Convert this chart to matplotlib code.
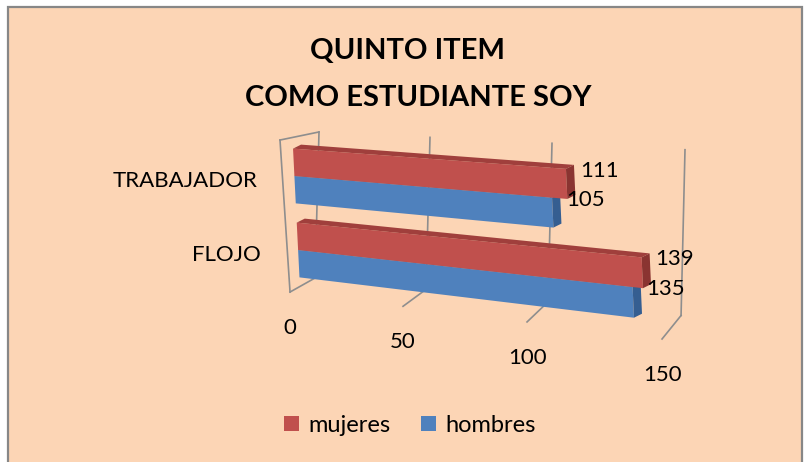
import numpy as np
import matplotlib
matplotlib.use("Agg")
import matplotlib.pyplot as plt
from matplotlib.transforms import Transform, Affine2D
from matplotlib.patches import Polygon, Rectangle, Patch

plt.rcParams['font.family'] = ['Lato', 'DejaVu Sans']

# data
categories = ["FLOJO", "TRABAJADOR"]
mujeres = [139, 111]
hombres = [135, 105]
series_names = ["mujeres", "hombres"]
value_ticks = [0, 50, 100, 150]
title_lines = ["QUINTO ITEM", "COMO ESTUDIANTE SOY"]

BG = "#FCD5B5"
FRAME = "#878787"
GRID = "#8E8E8E"
RED, RED_TOP, RED_SIDE = "#C0504D", "#A03F3C", "#8A3431"
BLUE, BLUE_TOP, BLUE_SIDE = "#4F81BD", "#416EA5", "#355E91"


class Slant(Transform):
    """(value, category position) -> image pixels, faking Excel's 3D perspective."""
    input_dims = output_dims = 2
    is_separable = False
    has_inverse = False

    def __init__(self, x0, yref, lean, a, b, k0, k1, yc0=250.0, cs=74.0):
        super().__init__()
        self.x0, self.yref, self.lean = x0, yref, lean
        self.a, self.b, self.k0, self.k1 = a, b, k0, k1
        self.yc0, self.cs = yc0, cs

    def transform_non_affine(self, values):
        values = np.asarray(values, dtype=float)
        v, c = values[:, 0], values[:, 1]
        y0 = self.yc0 - c * self.cs
        u = self.a * v + self.b * v ** 2
        k = self.k0 + self.k1 * (y0 - self.yref)
        x = self.x0 + self.lean * (y0 - self.yref) + u
        y = y0 + k * u
        return np.column_stack([x, y])


fig = plt.figure(figsize=(8.07, 4.62), dpi=100, facecolor="white")
ax = fig.add_axes([0, 0, 1, 1])
ax.set_autoscale_on(False)
ax.set_xlim(0, 807)
ax.set_ylim(462, 0)
ax.axis("off")

# chart area
ax.add_patch(Rectangle((8, 7), 794, 470, facecolor=BG, edgecolor=FRAME, lw=1.6, zorder=0))

# three planes: bar fronts, back wall, front edge of floor / left wall
bar_plane = Slant(293, 148, 0.05, 2.37, 0.0008, 0.074, 0.00036)
wall_plane = Slant(319, 132, -0.027, 2.11, 0.0022, 0.0485, 0.00037)
front_plane = Slant(280, 140, 0.066, 2.15, 0.0022, 0.070, 0.00037)
bar_t = bar_plane + ax.transData
wall_t = wall_plane + ax.transData
front_t = front_plane + ax.transData

wall_top, wall_bot = 1.595, -0.378
front_top, front_bot = 1.486, -0.568


def px(plane, v, c):
    return plane.transform(np.array([[v, c]], dtype=float))[0]


# back wall gridlines
for v in value_ticks:
    ax.plot([v, v], [wall_bot, wall_top], transform=wall_t, color=GRID, lw=1.2, zorder=1)
    # floor tick from front edge to back wall
    p, q = px(front_plane, v, front_bot), px(wall_plane, v, wall_bot)
    ax.plot([p[0], q[0]], [p[1], q[1]], color=GRID, lw=1.2, zorder=1)

# left wall front edge and top edge
ax.plot([0, 0], [front_bot, front_top], transform=front_t, color=GRID, lw=1.2, zorder=1)
p, q = px(front_plane, 0, front_top), px(wall_plane, 0, wall_top)
ax.plot([p[0], q[0]], [p[1], q[1]], color=GRID, lw=1.2, zorder=1)

h = 0.37
depth = np.array([8.0, -4.0])
label_shift = Affine2D().translate(14, 2)

for i in range(len(categories)):
    c = float(i)
    for vals, y, face, top, side in [(hombres, c - h, BLUE, BLUE_TOP, BLUE_SIDE),
                                     (mujeres, c, RED, RED_TOP, RED_SIDE)]:
        v = vals[i]
        ax.barh([y], [v], height=h, left=0, align="edge", color=face,
                transform=bar_t, clip_on=False, zorder=3)
        a0, a1 = px(bar_plane, 0, y + h), px(bar_plane, v, y + h)
        b1 = px(bar_plane, v, y)
        ax.add_patch(Polygon([a0, a1, a1 + depth, a0 + depth], closed=True,
                             facecolor=top, edgecolor="none", zorder=3))
        ax.add_patch(Polygon([b1, a1, a1 + depth, b1 + depth], closed=True,
                             facecolor=side, edgecolor="none", zorder=3))
        ax.text(v, y + h, str(v), transform=bar_plane + label_shift + ax.transData,
                ha="left", va="center", fontsize=16, color="black", zorder=4)
    ax.text(0, c, categories[i], transform=bar_plane + Affine2D().translate(-37, 5) + ax.transData,
            ha="right", va="center", fontsize=16, color="black")

# value axis labels along the front edge of the floor
for v in value_ticks:
    ax.text(v, front_bot, str(v), transform=front_plane + Affine2D().translate(0, 36) + ax.transData,
            ha="center", va="center", fontsize=16, color="black")

for line, xc, yc in zip(title_lines, [407, 418], [51, 98]):
    ax.text(xc, yc, line, ha="center", va="center", fontsize=21,
            fontweight="bold", color="black")

handles = [Patch(facecolor=RED), Patch(facecolor=BLUE)]
fig.legend(handles, series_names, loc="center", bbox_to_anchor=(410 / 807, 1 - 425 / 462),
           ncol=2, frameon=False, fontsize=17, handlelength=0.62, handleheight=0.62,
           handletextpad=0.4, columnspacing=1.3, borderaxespad=0)

fig.savefig("out.png", dpi=100, facecolor="white")
